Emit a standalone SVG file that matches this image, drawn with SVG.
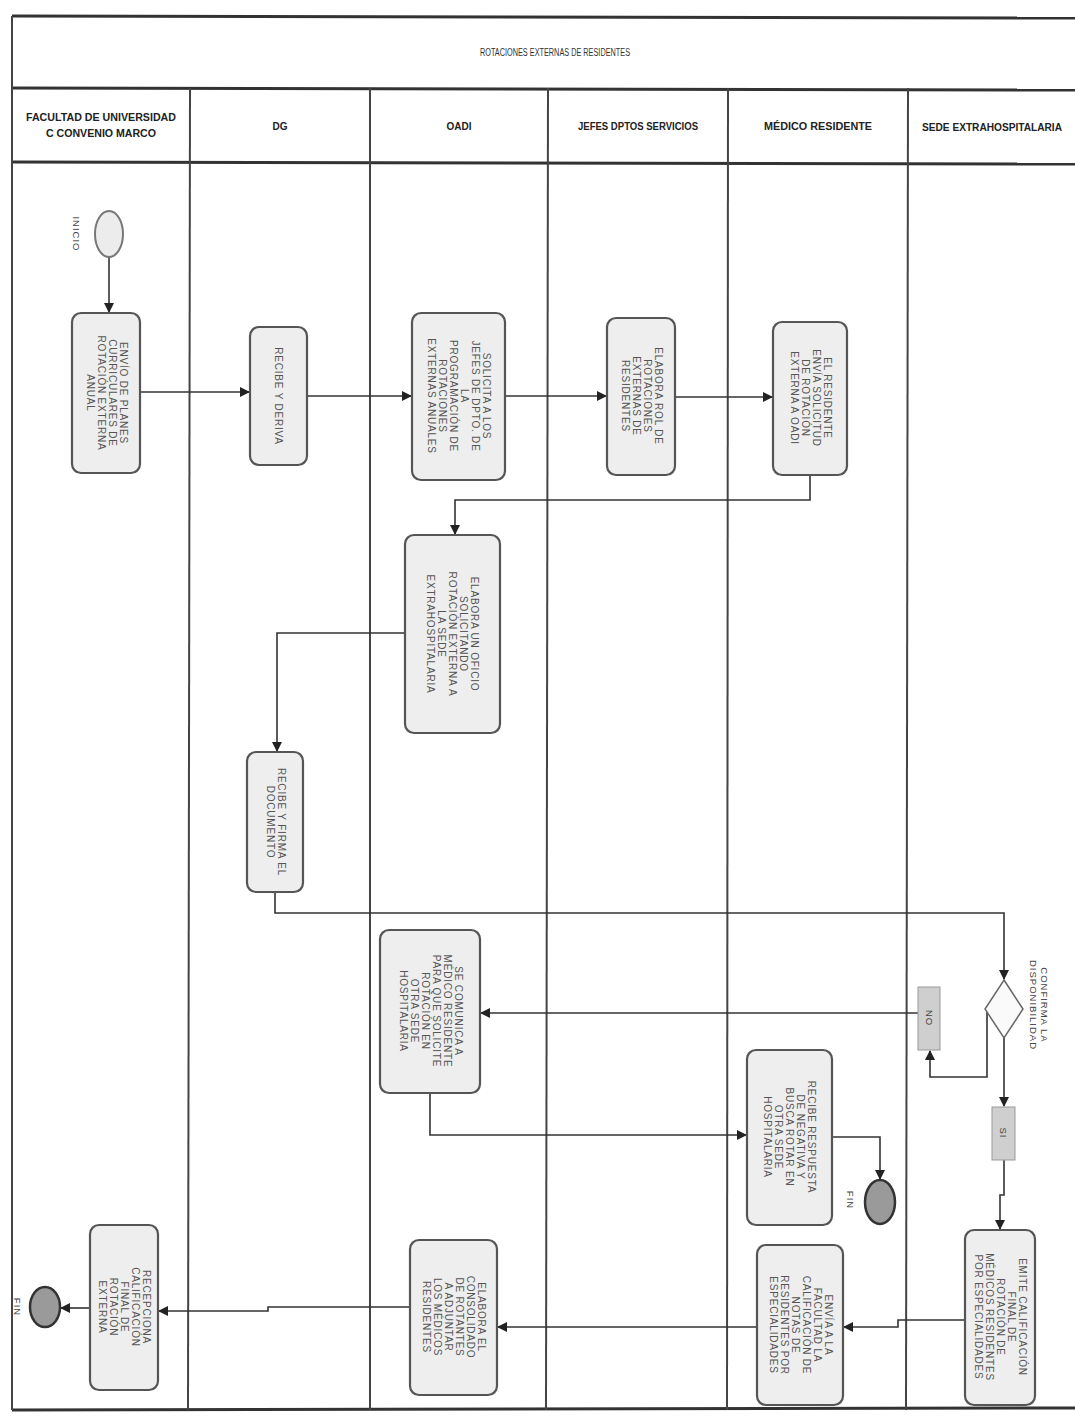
<svg xmlns="http://www.w3.org/2000/svg" width="1075" height="1427" viewBox="0 0 1075 1427">
<defs>
<marker id="ah" markerWidth="10" markerHeight="10" refX="9" refY="5" orient="auto" markerUnits="userSpaceOnUse">
<path d="M0,0 L10,5 L0,10 z" fill="#222"/>
</marker>
<style>
.frame{stroke:#333;stroke-width:3;fill:none}
.lane{stroke:#444;stroke-width:2;fill:none}
.hdr{font-family:"Liberation Sans",Arial,sans-serif;font-weight:bold;font-size:10px;fill:#222;text-anchor:middle}
.title{font-family:"Liberation Sans",Arial,sans-serif;font-size:10px;fill:#333;text-anchor:middle}
.box{fill:#eeeeee;stroke:#555;stroke-width:2.2}
.tag{fill:#cfcfcf;stroke:#999;stroke-width:1}
.bt{font-family:"Liberation Sans",Arial,sans-serif;font-size:10px;fill:#555;text-anchor:middle;letter-spacing:0.8px}
.lbl{font-family:"Liberation Sans",Arial,sans-serif;font-size:9.5px;fill:#444;text-anchor:middle;letter-spacing:1px}
.conn{stroke:#333;stroke-width:1.6;fill:none;marker-end:url(#ah)}
.start{fill:#ececec;stroke:#777;stroke-width:2}
.end{fill:#9a9a9a;stroke:#333;stroke-width:2.5}
.gw{fill:#fafafa;stroke:#666;stroke-width:1.5}
</style>
</defs>
<rect width="1075" height="1427" fill="#ffffff"/>
<g id="pool">
<line class="frame" x1="12" y1="16" x2="1075" y2="18"/>
<line class="frame" x1="12" y1="88" x2="1075" y2="90"/>
<line class="frame" x1="12" y1="162" x2="1075" y2="164"/>
<line class="frame" x1="12" y1="1410" x2="1075" y2="1408"/>
<line class="lane" x1="12" y1="16" x2="12" y2="1410"/>
<line class="lane" x1="190" y1="88" x2="188" y2="1410"/>
<line class="lane" x1="370" y1="88" x2="370" y2="1410"/>
<line class="lane" x1="548" y1="88" x2="546" y2="1410"/>
<line class="lane" x1="728" y1="88" x2="727" y2="1410"/>
<line class="lane" x1="908" y1="88" x2="906" y2="1410"/>
<text class="title" x="555" y="56" textLength="150" lengthAdjust="spacingAndGlyphs">ROTACIONES EXTERNAS DE RESIDENTES</text>
<text class="hdr" x="101" y="121" textLength="150" lengthAdjust="spacingAndGlyphs">FACULTAD DE UNIVERSIDAD</text>
<text class="hdr" x="101" y="137" textLength="110" lengthAdjust="spacingAndGlyphs">C CONVENIO MARCO</text>
<text class="hdr" x="280" y="130">DG</text>
<text class="hdr" x="459" y="130">OADI</text>
<text class="hdr" x="638" y="130" textLength="120" lengthAdjust="spacingAndGlyphs">JEFES DPTOS SERVICIOS</text>
<text class="hdr" x="818" y="130" textLength="108" lengthAdjust="spacingAndGlyphs">MÉDICO RESIDENTE</text>
<text class="hdr" x="992" y="131" textLength="140" lengthAdjust="spacingAndGlyphs">SEDE EXTRAHOSPITALARIA</text>
</g>
<g id="connectors">
<polyline class="conn" points="109,257 109,312"/>
<polyline class="conn" points="140,392 249,392"/>
<polyline class="conn" points="307,396 411,396"/>
<polyline class="conn" points="505,396 606,396"/>
<polyline class="conn" points="675,397 772,397"/>
<polyline class="conn" points="810,475 810,500 455,500 455,534"/>
<polyline class="conn" points="405,633 277,633 277,751"/>
<polyline class="conn" points="275,892 275,913 1004,913 1004,979"/>
<polyline class="conn" points="987,1009 987,1077 930,1077 930,1051"/>
<polyline class="conn" points="918,1013 481,1013"/>
<polyline class="conn" points="430,1093 430,1135 746,1135"/>
<polyline class="conn" points="832,1137 880,1137 880,1179"/>
<polyline class="conn" points="1004,1038 1004,1106"/>
<polyline class="conn" points="1004,1160 1004,1195 1000,1195 1000,1229"/>
<polyline class="conn" points="965,1320 898,1320 898,1327 844,1327"/>
<polyline class="conn" points="757,1327 498,1327"/>
<polyline class="conn" points="410,1307 268,1307 268,1311 159,1311"/>
<polyline class="conn" points="90,1308 61,1308"/>
</g>
<g id="inicio">
<ellipse class="start" cx="109" cy="234" rx="14" ry="23"/>
<text class="lbl" transform="translate(76 234) rotate(90)" y="3">INICIO</text>
</g>
<g id="envio-planes">
<rect class="box" x="72" y="313" width="68" height="160" rx="9"/>
<text class="bt" transform="translate(106 393) rotate(90)"><tspan x="0" y="-13.5">ENVÍO DE PLANES</tspan><tspan x="0" y="-2.5">CURRICULARES DE</tspan><tspan x="0" y="8.5">ROTACIÓN EXTERNA</tspan><tspan x="0" y="19.5">ANUAL</tspan></text>
</g>
<g id="dg-recibe">
<rect class="box" x="250" y="327" width="57" height="138" rx="9"/>
<text class="bt" transform="translate(278 396) rotate(90)" y="3">RECIBE Y DERIVA</text>
</g>
<g id="oadi-solicita">
<rect class="box" x="412" y="313" width="93" height="167" rx="9"/>
<text class="bt" transform="translate(458 396) rotate(90)"><tspan x="0" y="-24.5">SOLICITA A LOS</tspan><tspan x="0" y="-13.5">JEFES DE DPTO. DE</tspan><tspan x="0" y="-2.5">LA</tspan><tspan x="0" y="8.5">PROGRAMACIÓN DE</tspan><tspan x="0" y="19.5">ROTACIONES</tspan><tspan x="0" y="30.5">EXTERNAS ANUALES</tspan></text>
</g>
<g id="jefes-elabora">
<rect class="box" x="607" y="318" width="68" height="157" rx="9"/>
<text class="bt" transform="translate(641 396) rotate(90)"><tspan x="0" y="-13.5">ELABORA ROL DE</tspan><tspan x="0" y="-2.5">ROTACIONES</tspan><tspan x="0" y="8.5">EXTERNAS DE</tspan><tspan x="0" y="19.5">RESIDENTES</tspan></text>
</g>
<g id="residente-envia">
<rect class="box" x="773" y="322" width="74" height="153" rx="9"/>
<text class="bt" transform="translate(810 398) rotate(90)"><tspan x="0" y="-13.5">EL RESIDENTE</tspan><tspan x="0" y="-2.5">ENVÍA SOLICITUD</tspan><tspan x="0" y="8.5">DE ROTACIÓN</tspan><tspan x="0" y="19.5">EXTERNA A OADI</tspan></text>
</g>
<g id="oadi-oficio">
<rect class="box" x="405" y="535" width="95" height="198" rx="9"/>
<text class="bt" transform="translate(452 634) rotate(90)"><tspan x="0" y="-19">ELABORA UN OFICIO</tspan><tspan x="0" y="-8">SOLICITANDO</tspan><tspan x="0" y="3">ROTACIÓN EXTERNA A</tspan><tspan x="0" y="14">LA SEDE</tspan><tspan x="0" y="25">EXTRAHOSPITALARIA</tspan></text>
</g>
<g id="dg-firma">
<rect class="box" x="247" y="752" width="56" height="140" rx="9"/>
<text class="bt" transform="translate(275 822) rotate(90)"><tspan x="0" y="-2.5">RECIBE Y FIRMA EL</tspan><tspan x="0" y="8.5">DOCUMENTO</tspan></text>
</g>
<g id="confirma">
<polygon class="gw" points="1004,980 1023,1009 1004,1038 985,1009"/>
<text class="lbl" transform="translate(1038 1005) rotate(90)"><tspan x="0" y="-2.5">CONFIRMA LA</tspan><tspan x="0" y="8.5">DISPONIBILIDAD</tspan></text>
</g>
<g id="no">
<rect class="tag" x="918" y="987" width="22" height="63"/>
<text class="lbl" transform="translate(929 1018) rotate(90)" y="3">NO</text>
</g>
<g id="si">
<rect class="tag" x="992" y="1107" width="23" height="53"/>
<text class="lbl" transform="translate(1003 1133) rotate(90)" y="3">SI</text>
</g>
<g id="oadi-comunica">
<rect class="box" x="380" y="930" width="100" height="163" rx="9"/>
<text class="bt" transform="translate(430 1011) rotate(90)"><tspan x="0" y="-24.5">SE COMUNICA A</tspan><tspan x="0" y="-13.5">MÉDICO RESIDENTE</tspan><tspan x="0" y="-2.5">PARA QUE SOLICITE</tspan><tspan x="0" y="8.5">ROTACIÓN EN</tspan><tspan x="0" y="19.5">OTRA SEDE</tspan><tspan x="0" y="30.5">HOSPITALARIA</tspan></text>
</g>
<g id="residente-respuesta">
<rect class="box" x="747" y="1050" width="85" height="175" rx="9"/>
<text class="bt" transform="translate(789 1137) rotate(90)"><tspan x="0" y="-19">RECIBE RESPUESTA</tspan><tspan x="0" y="-8">DE NEGATIVA Y</tspan><tspan x="0" y="3">BUSCA ROTAR EN</tspan><tspan x="0" y="14">OTRA SEDE</tspan><tspan x="0" y="25">HOSPITALARIA</tspan></text>
</g>
<g id="fin-1">
<ellipse class="end" cx="880" cy="1202" rx="15" ry="22"/>
<text class="lbl" transform="translate(850 1200) rotate(90)" y="3">FIN</text>
</g>
<g id="sede-califica">
<rect class="box" x="965" y="1230" width="70" height="175" rx="9"/>
<text class="bt" transform="translate(1000 1317) rotate(90)"><tspan x="0" y="-19">EMITE CALIFICACIÓN</tspan><tspan x="0" y="-8">FINAL DE</tspan><tspan x="0" y="3">ROTACIÓN DE</tspan><tspan x="0" y="14">MÉDICOS RESIDENTES</tspan><tspan x="0" y="25">POR ESPECIALIDADES</tspan></text>
</g>
<g id="residente-facultad">
<rect class="box" x="757" y="1245" width="86" height="160" rx="9"/>
<text class="bt" transform="translate(800 1325) rotate(90)"><tspan x="0" y="-24.5">ENVÍA A LA</tspan><tspan x="0" y="-13.5">FACULTAD LA</tspan><tspan x="0" y="-2.5">CALIFICACIÓN DE</tspan><tspan x="0" y="8.5">NOTAS DE</tspan><tspan x="0" y="19.5">RESIDENTES POR</tspan><tspan x="0" y="30.5">ESPECIALIDADES</tspan></text>
</g>
<g id="oadi-consolidado">
<rect class="box" x="410" y="1240" width="87" height="155" rx="9"/>
<text class="bt" transform="translate(453 1317) rotate(90)"><tspan x="0" y="-24.5">ELABORA EL</tspan><tspan x="0" y="-13.5">CONSOLIDADO</tspan><tspan x="0" y="-2.5">DE ROTANTES</tspan><tspan x="0" y="8.5">A ADJUNTAR</tspan><tspan x="0" y="19.5">LOS MÉDICOS</tspan><tspan x="0" y="30.5">RESIDENTES</tspan></text>
</g>
<g id="facultad-recepciona">
<rect class="box" x="90" y="1225" width="68" height="165" rx="9"/>
<text class="bt" transform="translate(124 1307) rotate(90)"><tspan x="0" y="-19">RECEPCIONA</tspan><tspan x="0" y="-8">CALIFICACIÓN</tspan><tspan x="0" y="3">FINAL DE</tspan><tspan x="0" y="14">ROTACIÓN</tspan><tspan x="0" y="25">EXTERNA</tspan></text>
</g>
<g id="fin-2">
<ellipse class="end" cx="45" cy="1307" rx="15" ry="20"/>
<text class="lbl" transform="translate(17 1307) rotate(90)" y="3">FIN</text>
</g>
</svg>
